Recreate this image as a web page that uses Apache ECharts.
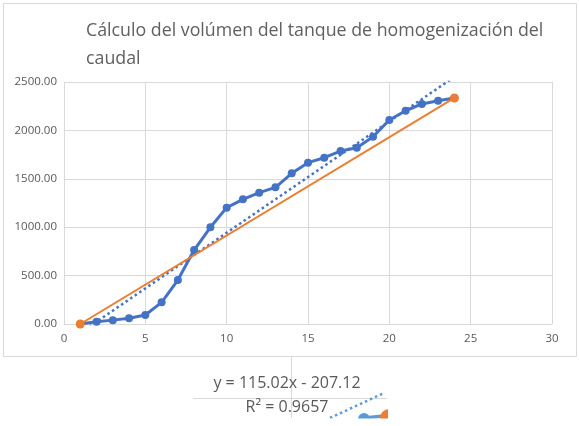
<!DOCTYPE html>
<html>
<head>
<meta charset="utf-8">
<script src="https://cdn.jsdelivr.net/npm/echarts@6/dist/echarts.min.js"></script>
<style>
  html, body { margin: 0; padding: 0; background: #fff; }
  #content { width: 579px; height: 426px; }
</style>
</head>
<body>
<div id="content"></div>
<script>
// horas y volumen acumulado
var horas = [1, 2, 3, 4, 5, 6, 7, 8, 9, 10, 11, 12, 13, 14, 15, 16, 17, 18, 19, 20, 21, 22, 23, 24];
var volumen = [0, 24, 40, 59, 93, 224, 454, 764, 999, 1202, 1288, 1357, 1412, 1557, 1667, 1718,
               1787, 1821, 1935, 2107, 2203, 2273, 2307, 2335];
// recta entre el primer y el ultimo punto
var rectaX = [1, 24];
var rectaY = [0, 2335];
// linea de tendencia (y = 115.02x - 207.12), extremos leidos
var tendX = [1, 24];
var tendY = [-92, 2553];
var xTicks = [0, 5, 10, 15, 20, 25, 30];
var yTicks = [0, 500, 1000, 1500, 2000, 2500];

var gris = '#595959';
var myChart = echarts.init(document.getElementById('content'));

var option = {
    animation: false,
    backgroundColor: '#fff',
    title: {
        text: 'Cálculo del volúmen del tanque de homogenización del\ncaudal',
        left: 81,
        top: 12,
        textStyle: {
            fontFamily: 'Open Sans',
            fontSize: 17.8,
            fontWeight: 'normal',
            color: '#606060',
            lineHeight: 28
        }
    },
    grid: {
        left: 64,
        right: 27,
        top: 82,
        bottom: 102
    },
    xAxis: {
        type: 'value',
        min: xTicks[0],
        max: xTicks[xTicks.length - 1],
        interval: 5,
        axisLine: { show: true, lineStyle: { color: '#d9d9d9' } },
        axisTick: { show: false },
        splitLine: { show: true, lineStyle: { color: '#d9d9d9' } },
        axisLabel: { color: gris, fontSize: 11.5, fontFamily: 'Open Sans', margin: 9 }
    },
    yAxis: {
        type: 'value',
        min: yTicks[0],
        max: yTicks[yTicks.length - 1],
        interval: 500,
        axisLine: { show: false },
        axisTick: { show: false },
        splitLine: { show: true, lineStyle: { color: '#d9d9d9' } },
        axisLabel: {
            color: gris, fontSize: 11.5, fontFamily: 'Open Sans', margin: 7,
            formatter: function (v) { return v.toFixed(2); }
        }
    },
    series: [
        {
            name: 'Volumen',
            type: 'line',
            data: horas.map(function (h, i) { return [h, volumen[i]]; }),
            symbol: 'circle',
            symbolSize: 8,
            lineStyle: { color: '#4472c4', width: 3 },
            itemStyle: { color: '#4472c4' },
            z: 3
        },
        {
            name: 'Tendencia',
            type: 'line',
            data: tendX.map(function (h, i) { return [h, tendY[i]]; }),
            symbol: 'none',
            clip: true,
            lineStyle: { color: '#4472c4', width: 2.5, type: [2.5, 3] },
            z: 2
        },
        {
            name: 'Recta',
            type: 'line',
            data: rectaX.map(function (h, i) { return [h, rectaY[i]]; }),
            symbol: 'circle',
            symbolSize: 9,
            lineStyle: { color: '#ed7d31', width: 2 },
            itemStyle: { color: '#ed7d31' },
            z: 4
        }
    ],
    graphic: [
        {
            type: 'rect',
            z: -10,
            shape: { x: 3.5, y: 3.5, width: 573, height: 353 },
            style: { fill: '#fff', stroke: '#d9d9d9', lineWidth: 1 }
        },
        {
            type: 'line',
            shape: { x1: 193, y1: 398.5, x2: 387, y2: 398.5 },
            style: { stroke: '#d9d9d9', lineWidth: 1 }
        },
        {
            type: 'line',
            shape: { x1: 291.5, y1: 357, x2: 291.5, y2: 418 },
            style: { stroke: '#d9d9d9', lineWidth: 1 }
        },
        // fragmento recortado de otro grafico bajo la ecuacion
        {
            type: 'line',
            shape: { x1: 330, y1: 418, x2: 384, y2: 393 },
            style: { stroke: '#5b9bd5', lineWidth: 2.5, lineDash: [2.5, 3] }
        },
        {
            type: 'line',
            shape: { x1: 364, y1: 418, x2: 384, y2: 416 },
            style: { stroke: '#5b9bd5', lineWidth: 3.5 }
        },
        {
            type: 'circle',
            shape: { cx: 364, cy: 419, r: 6 },
            style: { fill: '#5b9bd5' }
        },
        {
            type: 'circle',
            shape: { cx: 389, cy: 418, r: 9 },
            style: { fill: '#ed7d31' }
        },
        {
            type: 'rect',
            z: 50,
            shape: { x: 300, y: 418.5, width: 120, height: 10 },
            style: { fill: '#fff' }
        },
        {
            type: 'rect',
            z: 50,
            shape: { x: 388, y: 385, width: 30, height: 40 },
            style: { fill: '#fff' }
        },
        {
            type: 'text',
            x: 287, y: 383,
            style: {
                text: 'y = 115.02x - 207.12',
                fill: gris, fontSize: 16, fontFamily: 'Open Sans',
                align: 'center', verticalAlign: 'middle'
            }
        },
        {
            type: 'text',
            x: 287, y: 407,
            style: {
                text: 'R² = 0.9657',
                fill: gris, fontSize: 16, fontFamily: 'Open Sans',
                align: 'center', verticalAlign: 'middle'
            }
        }
    ]
};
myChart.setOption(option);
</script>
</body>
</html>
